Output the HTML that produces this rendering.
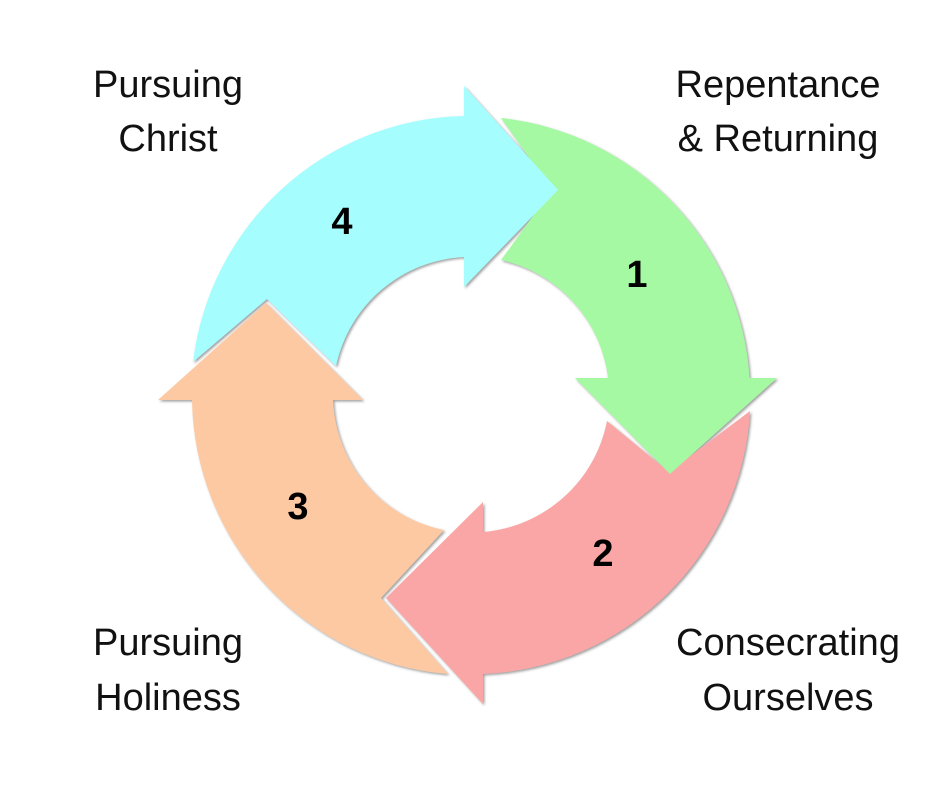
<!DOCTYPE html>
<html><head><meta charset="utf-8"><style>
html,body{margin:0;padding:0;background:#fff;}
body{width:936px;height:786px;overflow:hidden;}
svg{display:block}
.lbl{font-family:"Liberation Sans",sans-serif;font-size:38px;fill:#111;text-anchor:middle}
.num{font-family:"Liberation Sans",sans-serif;font-size:38px;font-weight:bold;fill:#000;text-anchor:middle}
</style></head><body>
<svg width="936" height="786" viewBox="0 0 936 786" xmlns="http://www.w3.org/2000/svg">
<defs>
<filter id="sh" x="-10%" y="-10%" width="120%" height="120%">
<feDropShadow dx="1.5" dy="1.5" stdDeviation="1.2" flood-color="#777" flood-opacity="0.7"/>
</filter>
</defs>
<g filter="url(#sh)">
<!-- orange 3 -->
<path fill="#FDC9A3" d="M448,674 A279,279 0 0 1 192,400 L158,400 L266,303 L363,400 L333,400 A138,138 0 0 0 444,530 L381,598 Z"/>
<!-- red 2 -->
<path fill="#FBA6A6" d="M750,411 A279,279 0 0 1 483,674 L483,704 L386,598 L483,502 L483,532 A138,138 0 0 0 607,421 L669,472 Z"/>
<!-- green 1 -->
<path fill="#A6F9A3" d="M501,118 A279,279 0 0 1 749.5,378 L777,378 L670,474 L575,378 L608,378 A138,138 0 0 0 501,260 L552,190 Z"/>
<!-- cyan 4 -->
<path fill="#A6FDFE" d="M193,362 A279,279 0 0 1 464,116 L464,86 L558,190 L464,287 L464,257 A138,138 0 0 0 336,366 L267,299 Z"/>
</g>
<text class="num" x="342" y="234">4</text>
<text class="num" x="637" y="287">1</text>
<text class="num" x="603" y="566">2</text>
<text class="num" x="298" y="519">3</text>
<text class="lbl" x="168" y="97">Pursuing</text>
<text class="lbl" x="168" y="151">Christ</text>
<text class="lbl" x="778" y="97">Repentance</text>
<text class="lbl" x="778" y="151">&amp; Returning</text>
<text class="lbl" x="788" y="655">Consecrating</text>
<text class="lbl" x="788" y="710">Ourselves</text>
<text class="lbl" x="168" y="655">Pursuing</text>
<text class="lbl" x="168" y="710">Holiness</text>
</svg>
</body></html>
